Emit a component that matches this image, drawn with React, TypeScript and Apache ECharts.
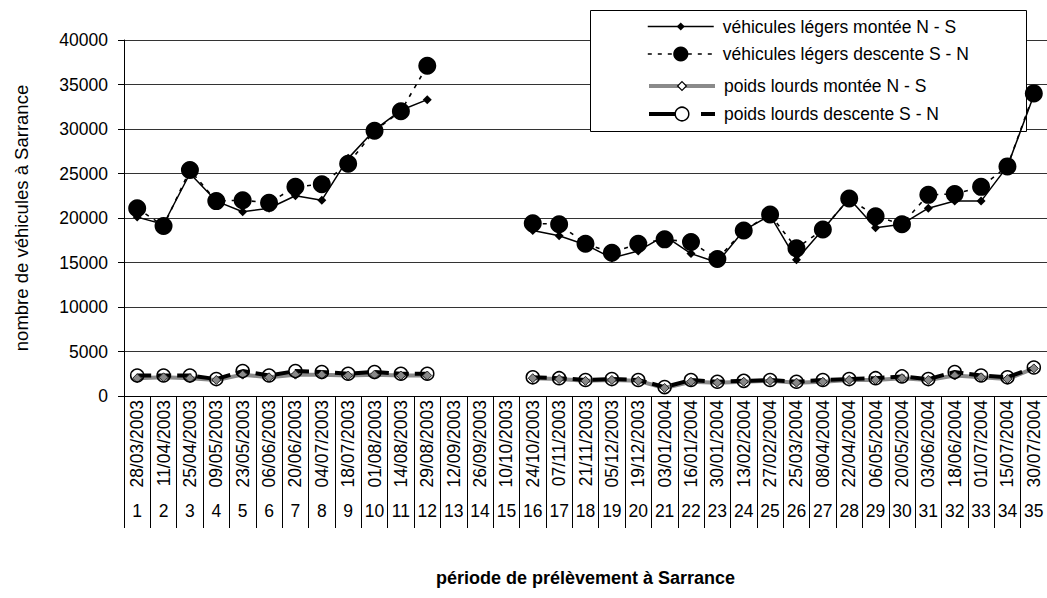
import React, { useEffect, useRef } from 'react';
import * as echarts from 'echarts';

const dates = ['28/03/2003','11/04/2003','25/04/2003','09/05/2003','23/05/2003','06/06/2003','20/06/2003','04/07/2003','18/07/2003','01/08/2003','14/08/2003','29/08/2003','12/09/2003','26/09/2003','10/10/2003','24/10/2003','07/11/2003','21/11/2003','05/12/2003','19/12/2003','03/01/2004','16/01/2004','30/01/2004','13/02/2004','27/02/2004','25/03/2004','08/04/2004','22/04/2004','06/05/2004','20/05/2004','03/06/2004','18/06/2004','01/07/2004','15/07/2004','30/07/2004'];
const periods = ['1','2','3','4','5','6','7','8','9','10','11','12','13','14','15','16','17','18','19','20','21','22','23','24','25','26','27','28','29','30','31','32','33','34','35'];

const vlMontee = [20100, 19300, 25000, 21900, 20700, 21100, 22500, 22000, 26700, 29900, 32100, 33300, null, null, null, 18600, 18000, 17000, 15500, 16300, 18000, 16000, 15000, 18600, 20300, 15300, 18700, 22200, 18900, 19300, 21100, 21900, 21900, 25800, 33800];
const vlDescente = [21100, 19100, 25400, 21900, 22000, 21700, 23500, 23800, 26100, 29800, 32000, 37100, null, null, null, 19400, 19300, 17100, 16100, 17100, 17600, 17300, 15400, 18600, 20400, 16600, 18700, 22200, 20200, 19300, 22600, 22700, 23500, 25800, 34000];
const plMontee = [2000, 2100, 2000, 1800, 2400, 2100, 2400, 2400, 2300, 2400, 2300, 2300, null, null, null, 2000, 1900, 1700, 1800, 1700, 900, 1600, 1500, 1600, 1700, 1500, 1600, 1800, 1800, 2000, 1800, 2300, 2100, 1900, 3100];
const plDescente = [2300, 2300, 2300, 1900, 2800, 2300, 2800, 2700, 2500, 2700, 2500, 2500, null, null, null, 2100, 2000, 1800, 1900, 1800, 1000, 1800, 1600, 1700, 1800, 1600, 1800, 1900, 2000, 2200, 1900, 2700, 2300, 2100, 3200];

const names = [
  'véhicules légers montée N - S',
  'véhicules légers descente S - N',
  'poids lourds montée N - S',
  'poids lourds descente S - N',
];

const FONT = "'Liberation Sans', Arial, sans-serif";
const FS = 17.5;

export default function App() {
  const ref = useRef<HTMLDivElement>(null);
  useEffect(() => {
    if (!ref.current) return;
    const chart = echarts.init(ref.current, null, { renderer: 'svg' });
    const legendRows = [
      { name: names[0], center: 26.5, h: 10, itemStyle: undefined, lineStyle: { width: 1.5, color: '#000', type: 'solid' } },
      { name: names[1], center: 54, h: 19, itemStyle: undefined, lineStyle: { width: 1.6, color: '#000', type: [4, 6] } },
      { name: names[2], center: 86, h: 11, itemStyle: { color: '#fff', borderColor: '#000', borderWidth: 1.2 }, lineStyle: { width: 4, color: '#8a8a8a', type: 'solid' } },
      { name: names[3], center: 114, h: 17, itemStyle: { color: '#fff', borderColor: '#000', borderWidth: 1.5 }, lineStyle: { width: 4, color: '#000', type: [30, 22] } },
    ];
    chart.setOption({
      animation: false,
      backgroundColor: '#fff',
      textStyle: { fontFamily: FONT, color: '#000' },
      grid: { left: 124, top: 40, right: -7.3, bottom: 202, containLabel: false },
      graphic: [
        {
          type: 'rect',
          z: 3,
          shape: { x: 590.5, y: 10.5, width: 436, height: 121 },
          style: { fill: '#fff', stroke: '#000', lineWidth: 1 },
        },
      ],
      legend: legendRows.map((r) => ({
        show: true,
        z: 5,
        left: 647,
        top: r.center - 10,
        padding: 0,
        itemWidth: 66,
        itemHeight: r.h,
        lineStyle: r.lineStyle,
        data: [r.itemStyle ? { name: r.name, itemStyle: r.itemStyle } : { name: r.name }],
        textStyle: { fontFamily: FONT, fontSize: FS, color: '#000', lineHeight: 20, padding: [0, 0, 0, 4] },
        selectedMode: false,
      })),
      xAxis: [
        {
          type: 'category',
          data: dates,
          position: 'bottom',
          boundaryGap: true,
          axisLine: { show: true, lineStyle: { color: '#000', width: 1 } },
          axisTick: { show: true, interval: 0, length: 132, lineStyle: { color: '#000', width: 1 } },
          axisLabel: { interval: 0, rotate: 90, margin: 4, fontSize: FS, color: '#000', fontFamily: FONT },
          splitLine: { show: false },
        },
        {
          type: 'category',
          data: periods,
          position: 'bottom',
          boundaryGap: true,
          axisLine: { show: false },
          axisTick: { show: false },
          axisLabel: { interval: 0, margin: 106, fontSize: FS, color: '#000', fontFamily: FONT },
          name: 'période de prélèvement à Sarrance',
          nameLocation: 'middle',
          nameGap: 173,
          nameTextStyle: { fontFamily: FONT, fontSize: 18, fontWeight: 'bold', color: '#000' },
        },
      ],
      yAxis: {
        type: 'value',
        min: 0,
        max: 40000,
        interval: 5000,
        axisLine: { show: true, lineStyle: { color: '#000', width: 1 } },
        axisTick: { show: true, length: 6, lineStyle: { color: '#000' } },
        axisLabel: { margin: 16, fontSize: FS, color: '#000', fontFamily: FONT, formatter: (v: number) => String(v) },
        splitLine: { show: true, lineStyle: { color: '#333', width: 1 } },
        name: 'nombre de véhicules à Sarrance',
        nameLocation: 'middle',
        nameGap: 93,
        nameTextStyle: { fontFamily: FONT, fontSize: 18.5, color: '#000' },
      },
      series: [
        {
          name: names[0],
          type: 'line',
          data: vlMontee,
          symbol: 'diamond',
          symbolSize: 9,
          itemStyle: { color: '#000' },
          lineStyle: { color: '#000', width: 1.5, type: 'solid' },
        },
        {
          name: names[1],
          type: 'line',
          data: vlDescente,
          symbol: 'circle',
          symbolSize: 18,
          itemStyle: { color: '#000' },
          lineStyle: { color: '#000', width: 1.6, type: [4, 6] },
        },
        {
          name: names[2],
          type: 'line',
          data: plMontee,
          symbol: 'diamond',
          symbolSize: 9,
          itemStyle: { color: '#888', borderColor: '#222', borderWidth: 1 },
          lineStyle: { color: '#8a8a8a', width: 4, type: 'solid' },
        },
        {
          name: names[3],
          type: 'line',
          data: plDescente,
          symbol: 'circle',
          symbolSize: 13,
          itemStyle: { color: 'rgba(0,0,0,0)', borderColor: '#000', borderWidth: 1.5 },
          lineStyle: { color: '#000', width: 4, type: [14, 6] },
        },
      ],
    });
    return () => chart.dispose();
  }, []);
  return <div ref={ref} style={{ position: 'fixed', left: 0, top: 0, width: 1047, height: 598 }} />;
}
